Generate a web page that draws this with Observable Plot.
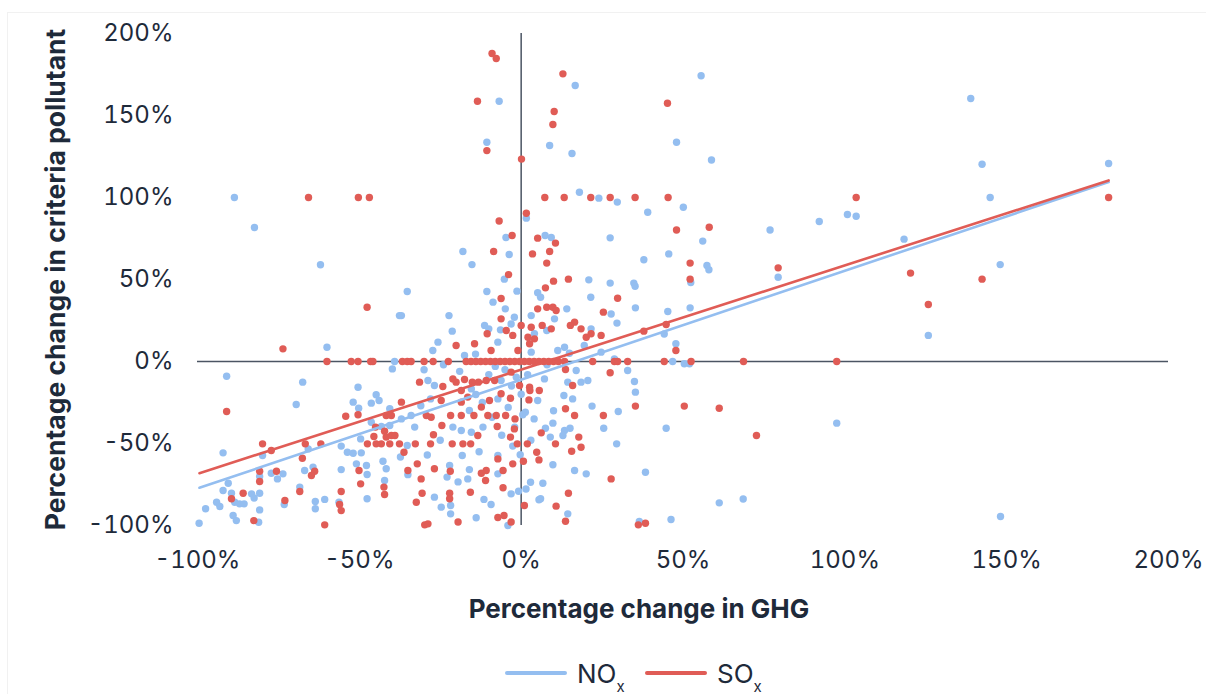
<!DOCTYPE html>
<html>
<head>
<meta charset="utf-8">
<script src="https://cdn.jsdelivr.net/npm/d3@7"></script>
<script src="https://cdn.jsdelivr.net/npm/@observablehq/plot@0.6"></script>
<style>
  html, body { margin: 0; padding: 0; background: #ffffff; overflow: hidden; }
  #wrap { position: relative; width: 1206px; height: 694px; font-family: Inter, "Noto Sans", sans-serif; color: #1e2a3a; }
  #frame { position: absolute; left: 7px; top: 12px; width: 1300px; height: 800px; border: 1px solid #f1f1f1; pointer-events: none; }
  #chart { position: absolute; left: 0; top: 0; }
  #legend { position: absolute; left: 0; top: 652px; width: 1206px; height: 42px; }
  .item { position: absolute; top: 0; display: flex; align-items: center; height: 42px; font-size: 26px; color: #1e2a3a; }
  .sw { display: inline-block; width: 62px; height: 4px; border-radius: 2px; margin-right: 10px; }
  .item sub { font-size: 15px; vertical-align: -9px; line-height: 0; }
</style>
</head>
<body>
<div id="wrap">
  <div id="frame"></div>
  <div id="chart"></div>
  <div id="legend"></div>
</div>
<script>
// ---- data (percent values) ----
const xTicks = [-100, -50, 0, 50, 100, 150, 200];
const yTicks = [-100, -50, 0, 50, 100, 150, 200];
const xTitle = "Percentage change in GHG";
const yTitle = "Percentage change in criteria pollutant";
const seriesNames = ["NO", "SO"];

const noxPoints = [
  [-88.6,100],[-82.4,81.7],[-62,59],
  [16.7,168.3],[-6.8,158.7],[55.6,174.2],[-10.6,133.7],[8.8,131.7],[15.7,126.8],[48,133.7],[58.8,122.9],
  [18,103.2],[24,99.6],[29.7,97.2],[39.1,91],[50.1,94.1],[1.6,87.4],[-4.7,75.6],[7.4,76.8],[9.3,75.6],
  [27.5,75.4],[56.1,73.4],[76.9,80.2],[-18,67.1],[-15.2,59.1],[-3.7,65.2],[37.9,62],[45.6,65.6],[57.4,58.5],
  [58,55.9],[79.4,51.4],[52.4,48.2],[-35.2,42.7],[-10.6,42.7],[-1.3,42.9],[-5.2,50.2],[5.1,41.9],[20.9,49.8],
  [27.5,47.8],[34.8,47.8],[35.2,45.9],[21.5,39.2],[6,39.2],
  [138.9,160.4],[142.4,120.3],[181.5,120.7],[100.8,89.6],[103.5,88.6],[92.1,85.4],[144.9,100],[118.3,74.6],[148,59.1],
  [125.8,15.9],[97.5,-37.6],[148.1,-94.5],
  [-37.6,28],[-60,8.7],[-39.8,-4.5],[-39.1,0],[-91,-9],[-67.5,-12.6],[-50.4,-15.7],[-44.8,-20.3],[-43.9,-23.8],
  [-51.9,-24.8],[-46.3,-25.4],[-50.2,-28.5],[-69.5,-26.2],[-40.6,-28.8],[-46.3,-37],[-43.2,-39.6],[-40.6,-39],
  [-49.6,-47.2],[-55.6,-51.6],[-53.7,-55.3],[-51.9,-55.9],[-49.4,-55.7],[-65.8,-53.3],[-92.1,-55.7],[-79.9,-57.3],
  [-42.7,-60.8],[-50.9,-62.4],[-47.8,-63.4],[-41.7,-65.4],[-37.3,-58.2],[-55.6,-65.9],[-66.9,-66.5],[-64.3,-64.4],
  [-77.2,-68.1],[-75.3,-71.6],[-73.6,-68.5],[-80.8,-70.1],[-90.5,-74.2],[-92.1,-78.7],[-89.5,-80.3],[-83.3,-80.7],
  [-82.5,-83.2],[-80.8,-80.3],[-88.5,-85.8],[-87,-86.8],[-85.6,-86.8],[-94.1,-85.8],[-93.1,-88.4],[-97.5,-89.8],
  [-89,-93.9],[-88,-97],[-99.5,-98.6],[-81.1,-98],[-80.8,-90.5],[-73.2,-87.2],[-68.4,-76.6],[-63.6,-85.4],
  [-63.6,-89.8],[-60.7,-84.1],[-56.3,-85.8],[-47.6,-68.9],[-47.6,-83.7],[-42.2,-72.6],
  [-8.7,36.2],[-4.9,32.1],[-2.1,27],[-3.1,22.9],[3.1,28],[14.1,32.1],[10.3,26],[21.6,19.9],[27.8,29],[29.6,23.4],
  [35.3,32.7],[45.3,30.5],[52.2,32.7],[-37,28],[-22.3,28],[-21.3,18.5],[-25.7,11.8],[-27.3,6.7],[-11.3,22],
  [-10,19.9],[-7.2,11.8],[-6.4,19.3],[4.1,17],[7.9,18.9],[19.5,9.8],[24.7,5.7],[3.1,5.7],[11.3,6.7],[13.4,8.7],
  [14.9,5],[-17.5,3.7],[-14.1,4.5],[28.8,1.6],[35,-12.2],[35.3,-18.7],[32.9,-5.5],[44.2,16.8],[47.8,10.8],
  [44.8,-40.7],[61.2,-86.2],[68.6,-83.8],[46.3,-96.3],[36.5,-97.6],[38.4,-67.5],[29.5,-50.2],[30,-30.5],
  [25.5,-40.7],[21.9,-27.2],[20.1,-68.5],[16.5,-66.5],[15.9,-22.8],[13.2,-20.7],[14.4,-12.6],[17,-5.5],
  [18.5,-12.6],[20.6,-11.6],[13.4,-42.1],[15.1,-40.7],[9.8,-37.6],[7.5,-40.7],[9,-46.1],[12.9,-45.1],[9.8,-63],
  [6.7,-74.2],[6,-83.7],[5.5,-84.3],[2.9,-73.6],[1.5,-77.7],[-0.8,-79.1],[-0.3,-56.9],[-2.6,-51.6],[1.3,-30.9],
  [0.5,-32.5],[5.1,-23.8],[7.2,-10.6],[-1.5,-9.6],[-6.2,-11.6],[-28.8,-11.6],[-26.8,-14.6],[-15.4,-16.7],
  [-7.2,-22.8],[-14,-20.1],[-28,-22.8],[-37,-35],[-34,-32.9],[-16,-29.9],[-11.8,-40],[-15.4,-43.1],[-18.5,-42.1],
  [-21.1,-40],[-32.9,-40],[-35.2,-51.2],[-18.2,-57.3],[-7.2,-57.3],[-7.2,-68.5],[-16,-65.9],[-16.5,-71.6],
  [-19.5,-73.4],[-22.1,-63.4],[-22.9,-70.5],[-21.8,-87.8],[-24.7,-88.8],[-21.8,-92.9],[-13.9,-95.3],[-11.5,-84.1],
  [-9.3,-87.2],[-3.1,-80.7],[-4.1,-100],[-26.8,-82.7],[-35,-69],[14.4,-92.9],[46.8,0],[50.4,-1.4],[52,-1.4],
  [-5,-5],[-3,-15],[-8,-3],[0,-20],[2,-8],[-10,-8],[-4,-28],[-12,-25],[4,-35],[-2,-40],[8,-2],[-19,-6],
  [-24,-2],[-30,-5],[10,-30],[-9,-34],[-6,-45],[3,-48],[-13,-55],[-25,-48],[-29,-57],[-31,-27]
];

const soxPoints = [
  [-65.7,100],[-50.3,100],[-46.9,100],
  [-9,187.8],[-7.7,184.8],[12.9,175.4],[-13.5,158.7],[10.2,152.4],[9.8,144.5],[45.2,157.5],[-10.6,128.6],
  [0.1,123.4],[7.3,100],[13.3,100],[21.5,100],[27.5,100],[35.2,100],[45.4,100],[1.6,90.4],[-6.8,85.7],
  [-2.8,76.8],[5.1,75.2],[10.6,72.2],[48,80.2],[58.1,81.9],[-8.5,67.1],[3.5,65.6],[8.8,67.1],[7.9,60],
  [52.2,60],[79.4,57.1],[52.2,50.2],[-3.9,53],[7.5,44.9],[10,49],[14.6,50.2],[29.8,38.6],[-6.2,38.4],
  [103.5,100],[181.5,100],[120.3,53.9],[142.4,50.2],[125.8,34.8],[97.5,0],
  [-47.6,33.1],[-73.6,7.7],[-60,0],[-52.5,0],[-50.4,0],[-46.5,0],[-45.8,0],[-91,-30.5],[-54.2,-33.4],
  [-50.4,-32.5],[-41.7,-32.9],[-40.1,-32.9],[-45,-40],[-45.5,-45.7],[-42.2,-42.5],[-41.7,-46.1],[-40.1,-45.1],
  [-39,-45.1],[-47.5,-50.2],[-44.8,-50.2],[-43.2,-50.2],[-40.6,-50.2],[-37.6,-50.2],[-66.7,-50.2],[-61.9,-50.2],
  [-67.6,-59],[-79.9,-50.2],[-77.2,-54.3],[-50.1,-66.5],[-63.8,-66.9],[-64.8,-69.5],[-75.6,-66.9],[-80.8,-66.9],
  [-80.8,-73.2],[-85.9,-80.3],[-89.5,-83.7],[-82.6,-97],[-73,-84.8],[-68.4,-79.3],[-60.7,-99.6],[-55.6,-79.3],
  [-56.1,-87.2],[-55.6,-90.9],[-49.6,-74.6],[-42.4,-76.6],[-42.2,-81.1],
  [-6.2,26],[5.1,32.1],[7.9,33.1],[9.8,33.1],[10.8,31.1],[16.5,24],[15.2,22],[18.5,19.9],[25.4,30.1],
  [-10.5,16.9],[-4.6,18.9],[-2.6,15.9],[0,22],[3.1,20.9],[2.1,14.8],[4.1,13.8],[2.6,10.8],[6.5,22],[9.3,19.9],
  [20.1,14.8],[21.6,16.9],[24.7,15.9],[-1,6.7],[-9.3,6.7],[-14.4,10.8],[-20.1,9.8],[27.5,-6.9],[44.8,22.6],
  [37.9,18.5],[47.8,6.7],[35.3,-27.2],[50.4,-27.2],[61.2,-28.5],[72.7,-45.1],[36.2,-99.6],[38.4,-98.6],
  [27.8,-71.6],[25.4,-32.9],[18.5,-52.3],[17.8,-46.1],[15.6,-54.7],[16.5,-32.9],[13.7,-28.8],[15.9,-14.6],
  [13.7,-4.9],[6.2,-43.5],[10.6,-50.2],[4.8,-55.3],[5.5,-60],[0.7,-60.8],[1.9,-50.2],[-1.2,-50.2],[-2.1,-41.1],
  [-3.3,-46.1],[2.4,-23.4],[-0.5,-14.6],[2.6,-15.7],[2.7,-17.7],[5.6,-17.7],[-3.1,-6.5],[-8.2,-11.6],
  [-10.8,-11.6],[-13.2,-12.6],[-15.1,-12.6],[-17.5,-11],[-20.1,-12.6],[-21.1,-10.6],[-24.2,-15.2],[-31.4,-12.6],
  [-18.5,-17.7],[-6.2,-19.7],[-3.3,-22.4],[-9.8,-23.8],[-16.5,-21.7],[-18.5,-24.8],[-24.7,-23.8],[-37,-24.8],
  [-29.3,-32.9],[-27.8,-34],[-21.8,-32.9],[-18.5,-32.9],[-14.6,-32.9],[-12.3,-27.8],[-10.3,-32.9],[-7.7,-32.9],
  [-4.8,-32.9],[-1.9,-35],[-7.4,-39.6],[-13.4,-45.1],[-21.3,-50.2],[-18,-50.2],[-15.6,-50.2],[-24.5,-39],
  [-27.1,-44.7],[-28,-50.2],[-32.7,-50.2],[-36.2,-55.3],[-7.2,-59.4],[-2.6,-62.4],[-5.6,-66.5],[-10.8,-66.5],
  [-12.3,-68.1],[-11,-72.6],[-21.9,-66.9],[-15.7,-79.7],[-22.1,-80.3],[-22.1,-83.7],[-19.5,-97.9],[-5.6,-77],
  [-7.2,-95.1],[-5.3,-93.9],[-3.1,-97.9],[1,-87.8],[-26.8,-65.4],[-30.9,-71.6],[-32.1,-62.4],[-35,-66.5],
  [-30.6,-80.3],[-32.4,-85.8],[-29.8,-99.6],[-28.8,-99],[14.6,-80.3],[13.7,-97.4],[10.8,-88.2],
  [-36.7,0],[-35.2,0],[-34,0],[-30,0],[-27.2,0],[-22.5,0],
  [-17,0],[-15.5,0],[-14,0],[-12.5,0],[-11,0],[-9.5,0],[-8,0],[-6.5,0],[-5,0],[-3.5,0],[-2,0],[-0.5,0],
  [1,0],[2.5,0],[4,0],[5.5,0],[7,0],[8.5,0],[10,0],[11.5,0],[13.4,0],[22.1,0],[28.8,0],[29.8,0],[32.9,0],
  [44.2,0],[52.5,0],[68.7,0]
];

// linear trend lines (endpoints)
const trendX = [-99.4, 181.5];
const noxTrend = [-77, 109.4];
const soxTrend = [-68.1, 110.4];

// ---- styles ----
const blue = "#94bef0";
const red = "#e05c56";
const axisColor = "#4b5563";
const ink = "#1e2a3a";

const nox = noxPoints.map(([x, y]) => ({x, y}));
const sox = soxPoints.map(([x, y]) => ({x, y}));
const noxLine = trendX.map((x, i) => ({x, y: noxTrend[i]}));
const soxLine = trendX.map((x, i) => ({x, y: soxTrend[i]}));
const pct = d => `${d}%`;

const chart = Plot.plot({
  width: 1206,
  height: 652,
  marginLeft: 197,
  marginRight: 38,
  marginTop: 33,
  marginBottom: 127,
  style: {fontFamily: "Inter, 'Noto Sans', sans-serif", fontSize: "24px", color: ink, background: "transparent", overflow: "visible"},
  x: {domain: [-100, 200]},
  y: {domain: [-100, 200]},
  marks: [
    Plot.axisX({ticks: xTicks, tickFormat: pct, tickSize: 0, tickPadding: 25, label: null, fontSize: 24}),
    Plot.axisY({ticks: yTicks, tickFormat: pct, tickSize: 0, tickPadding: 24, label: null, fontSize: 24}),
    Plot.ruleY([0], {stroke: axisColor, strokeWidth: 1.5}),
    Plot.ruleX([0], {stroke: axisColor, strokeWidth: 1.5}),
    Plot.dot(nox, {x: "x", y: "y", r: 3.7, fill: blue}),
    Plot.dot(sox, {x: "x", y: "y", r: 3.7, fill: red}),
    Plot.line(noxLine, {x: "x", y: "y", stroke: blue, strokeWidth: 2.6}),
    Plot.line(soxLine, {x: "x", y: "y", stroke: red, strokeWidth: 2.6}),
    Plot.text([xTitle], {text: d => d, frameAnchor: "bottom", dy: 92, dx: -44, fontSize: 26, fontWeight: 700, fill: ink}),
    Plot.text([yTitle], {text: d => d, frameAnchor: "left", textAnchor: "middle", rotate: -90, dx: -141, fontSize: 26.5, fontWeight: 700, fill: ink})
  ]
});
document.getElementById("chart").appendChild(chart);

// legend
const legend = document.getElementById("legend");
const items = [{name: seriesNames[0], color: blue, left: 505}, {name: seriesNames[1], color: red, left: 645}];
for (const it of items) {
  const d = document.createElement("div");
  d.className = "item";
  d.style.left = it.left + "px";
  d.innerHTML = `<span class="sw" style="background:${it.color}"></span><span>${it.name}<sub>x</sub></span>`;
  legend.appendChild(d);
}
</script>
</body>
</html>
